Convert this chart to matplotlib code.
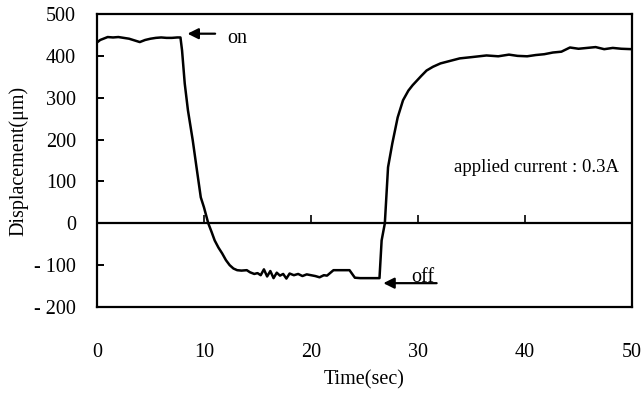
import matplotlib
matplotlib.use("Agg")
import matplotlib.pyplot as plt

# ---- data ----
time_s = [0.0, 0.3, 0.6, 1.0, 1.5, 2.0, 2.5, 3.0, 3.5, 4.0, 4.5, 5.0, 5.5, 6.0, 6.5, 7.0, 7.5, 7.8,
          7.95, 8.2, 8.5, 8.95, 9.3, 9.7, 10.0, 10.4, 10.7, 11.0, 11.35, 11.7, 12.05, 12.4, 12.75, 13.1,
          13.5, 14.0, 14.3, 14.7, 15.0, 15.3, 15.6, 15.9, 16.2, 16.5, 16.8, 17.1, 17.4, 17.7, 18.0,
          18.4, 18.8, 19.2, 19.6, 20.0, 20.4, 20.8, 21.2, 21.5, 22.1, 22.8, 23.6, 24.1, 24.6, 25.2,
          25.8, 26.4, 26.6, 26.9, 27.2, 27.6, 28.1, 28.6, 29.1, 29.5, 29.9, 30.3, 30.8, 31.4, 32.1,
          33.0, 33.9, 35.0, 36.4, 37.5, 38.5, 39.3, 40.2, 41.0, 41.8, 42.6, 43.4, 44.2, 45.0, 45.8,
          46.6, 47.4, 48.2, 49.0, 50.0]
displacement = [432, 438, 441, 445, 444, 445, 443, 441, 437, 433, 438, 441, 443, 444, 443, 443, 444, 444,
                413, 334, 270, 198, 134, 62, 38, 0, -20, -41, -58, -72, -88, -100, -108, -112,
                -113, -112, -117, -121, -119, -124, -110, -127, -114, -131, -118, -125, -121, -132, -120,
                -124, -121, -126, -122, -124, -126, -129, -124, -125, -112, -112, -112, -130, -131, -131,
                -131, -131, -41, 0, 134, 191, 253, 294, 317, 330, 341, 352, 365, 374, 382,
                388, 394, 397, 401, 399, 403, 400, 399, 402, 404, 408, 410, 420, 417, 419,
                421, 416, 419, 417, 416]

x_ticks = [0, 10, 20, 30, 40, 50]
y_ticks = [-200, -100, 0, 100, 200, 300, 400, 500]
x_limits = (0, 50)
y_limits = (-200, 500)

plt.rcParams['font.family'] = ['Liberation Serif', 'DejaVu Serif']

fig = plt.figure(figsize=(6.44, 3.96), dpi=100)
ax = fig.add_axes([0.1506, 0.2247, 0.8308, 0.7399])

ax.plot(time_s, displacement, color='black', linewidth=1.8)

ax.set_xlim(*x_limits)
ax.set_ylim(*y_limits)
ax.set_xticks(x_ticks)
ax.set_yticks(y_ticks)
ax.set_yticklabels([str(v).replace('-', '- ') if v < 0 else str(v) for v in y_ticks])

for s in ax.spines.values():
    s.set_linewidth(1.6)
    s.set_color('black')

ax.tick_params(axis='x', length=0, pad=26, labelsize=14.5)
ax.tick_params(axis='y', direction='in', length=5, width=1.4, pad=15, labelsize=14.5)

# zero line with upward ticks at the inner x tick positions
ax.axhline(0, color='black', linewidth=1.6)
tick_h = 0.028 * (y_limits[1] - y_limits[0])
ax.vlines(x_ticks[1:-1], 0, tick_h, color='black', linewidth=1.2)

ax.set_xlabel('Time(sec)', fontsize=14.5, labelpad=6)
ax.set_ylabel('Displacement(μm)', fontsize=14.5, labelpad=4)

# annotations
ax.annotate('', xy=(8.2, 453), xytext=(11.3, 453),
            arrowprops=dict(arrowstyle='-|>', color='black', lw=1.6, mutation_scale=16))
ax.text(12.2, 441, 'on', fontsize=14.5, va='center', ha='left')

ax.annotate('', xy=(26.5, -143), xytext=(32.0, -143),
            arrowprops=dict(arrowstyle='-|>', color='black', lw=1.6, mutation_scale=16))
ax.text(29.4, -141, 'off', fontsize=14.5, va='baseline', ha='left')

ax.text(41.1, 134, 'applied current : 0.3A', fontsize=13.5, va='center', ha='center')

fig.savefig('out.png', dpi=100)
